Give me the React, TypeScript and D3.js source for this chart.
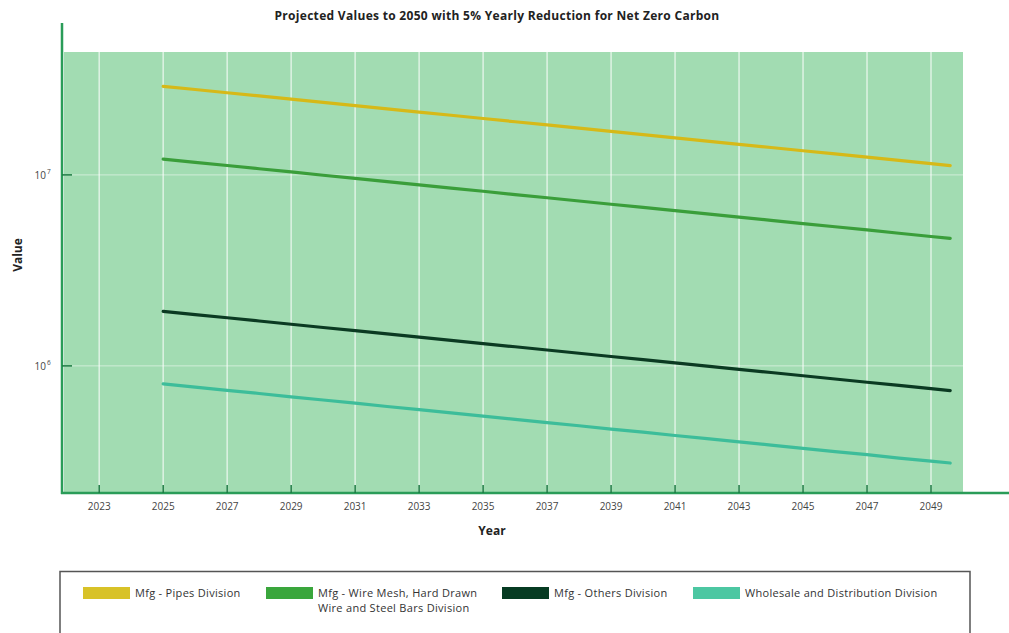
import React from "react";
import * as d3 from "d3";

const years = [2025, 2026, 2027, 2028, 2029, 2030, 2031, 2032, 2033, 2034, 2035, 2036, 2037, 2038, 2039, 2040, 2041, 2042, 2043, 2044, 2045, 2046, 2047, 2048, 2049, 2049.6];

const pipes = [29.1, 27.99, 26.93, 25.9, 24.91, 23.96, 23.05, 22.17, 21.33, 20.52, 19.73, 18.98, 18.26, 17.56, 16.89, 16.25, 15.63, 15.04, 14.46, 13.91, 13.38, 12.87, 12.38, 11.91, 11.46, 11.19].map(v => v * 1e6);
const wireMesh = [12.1, 11.64, 11.2, 10.77, 10.36, 9.96, 9.58, 9.22, 8.87, 8.53, 8.21, 7.89, 7.59, 7.3, 7.02, 6.76, 6.5, 6.25, 6.01, 5.78, 5.56, 5.35, 5.15, 4.95, 4.76, 4.65].map(v => v * 1e6);
const others = [1.93, 1.857, 1.786, 1.718, 1.652, 1.589, 1.529, 1.471, 1.415, 1.361, 1.309, 1.259, 1.211, 1.165, 1.12, 1.078, 1.037, 0.997, 0.959, 0.923, 0.888, 0.854, 0.821, 0.79, 0.76, 0.742].map(v => v * 1e6);
const wholesale = [0.805, 0.774, 0.745, 0.717, 0.689, 0.663, 0.638, 0.613, 0.59, 0.568, 0.546, 0.525, 0.505, 0.486, 0.467, 0.45, 0.432, 0.416, 0.4, 0.385, 0.37, 0.356, 0.343, 0.329, 0.317, 0.31].map(v => v * 1e6);

const seriesNames = ["Mfg - Pipes Division", "Mfg - Wire Mesh, Hard Drawn Wire and Steel Bars Division", "Mfg - Others Division", "Wholesale and Distribution Division"];
const seriesValues = [pipes, wireMesh, others, wholesale];
const seriesColors = ["#d6b918", "#3a9e3a", "#0b3a22", "#3dbd9a"];
const legendColors = ["#d8c228", "#3aa63c", "#063b22", "#4cc7a2"];
const legendLines = [["Mfg - Pipes Division"], ["Mfg - Wire Mesh, Hard Drawn", "Wire and Steel Bars Division"], ["Mfg - Others Division"], ["Wholesale and Distribution Division"]];
const legendX = [83, 266, 502, 693];

const xTicks = [2023, 2025, 2027, 2029, 2031, 2033, 2035, 2037, 2039, 2041, 2043, 2045, 2047, 2049];
const yTicks = [1e6, 1e7];
const yTickExp = ["6", "7"];

const title = "Projected Values to 2050 with 5% Yearly Reduction for Net Zero Carbon";

export default function App() {
  const W = 1009, H = 633;
  const left = 64, right = 963, top = 52, bottom = 493;
  const x = d3.scaleLinear().domain([2021.9, 2050]).range([left, right]);
  const y = d3.scaleLog().domain([2.16e5, 4.4e7]).range([bottom, top]);
  const line = d3.line<number>().x((_, i) => x(years[i])).y(d => y(d));
  const font = "'Open Sans', 'Noto Sans', sans-serif";

  return (
    <svg width={W} height={H} style={{ position: "absolute", left: 0, top: 0, fontFamily: font }}>
      <rect x={0} y={0} width={W} height={H} fill="#ffffff" />
      <text x={497} y={20} textAnchor="middle" fontSize={12} letterSpacing={0.3} fontWeight="bold" fill="#222">{title}</text>
      <rect x={left} y={top} width={right - left} height={bottom - top} fill="#a2dcb2" />
      {xTicks.map(t => (
        <line key={"gx" + t} x1={x(t)} x2={x(t)} y1={46} y2={bottom} stroke="#ffffff" strokeOpacity={0.65} strokeWidth={1.5} />
      ))}
      {yTicks.map(t => (
        <line key={"gy" + t} x1={left} x2={980} y1={y(t)} y2={y(t)} stroke="#ffffff" strokeOpacity={0.5} strokeWidth={1} />
      ))}
      {seriesValues.map((vals, i) => (
        <path key={"s" + i} d={line(vals) || ""} fill="none" stroke={seriesColors[i]} strokeWidth={3.2} strokeLinecap="round" />
      ))}
      <line x1={62} x2={62} y1={23} y2={bottom + 1} stroke="#2a9c58" strokeWidth={2.5} />
      <line x1={61} x2={W} y1={bottom} y2={bottom} stroke="#2a9c58" strokeWidth={2.5} />
      {xTicks.map(t => (
        <g key={"tx" + t}>
          <line x1={x(t)} x2={x(t)} y1={bottom - 8} y2={bottom} stroke="#1c7a42" strokeWidth={1.5} />
          <text x={x(t)} y={510} textAnchor="middle" fontSize={10} fill="#444">{t}</text>
        </g>
      ))}
      {yTicks.map((t, i) => (
        <g key={"ty" + t}>
          <line x1={62} x2={72} y1={y(t)} y2={y(t)} stroke="#1c7a42" strokeWidth={1.5} />
          <text x={46} y={y(t) + 4} textAnchor="end" fontSize={10} fill="#444">10</text>
          <text x={47} y={y(t) - 1} textAnchor="start" fontSize={6.5} fill="#444">{yTickExp[i]}</text>
        </g>
      ))}
      <text x={492} y={535} textAnchor="middle" fontSize={12} fontWeight="bold" fill="#222">Year</text>
      <text transform={`translate(22,255) rotate(-90)`} textAnchor="middle" fontSize={12} fontWeight="bold" fill="#222">Value</text>
      <rect x={60} y={571.5} width={910} height={70} fill="#ffffff" stroke="#555" strokeWidth={1.5} />
      {seriesNames.map((name, i) => (
        <g key={"lg" + i}>
          <rect x={legendX[i]} y={587} width={47} height={12} fill={legendColors[i]} />
          {legendLines[i].map((ln, j) => (
            <text key={j} x={legendX[i] + 52} y={597 + j * 15} fontSize={11} letterSpacing={0.3} fill="#333">{ln}</text>
          ))}
        </g>
      ))}
    </svg>
  );
}
